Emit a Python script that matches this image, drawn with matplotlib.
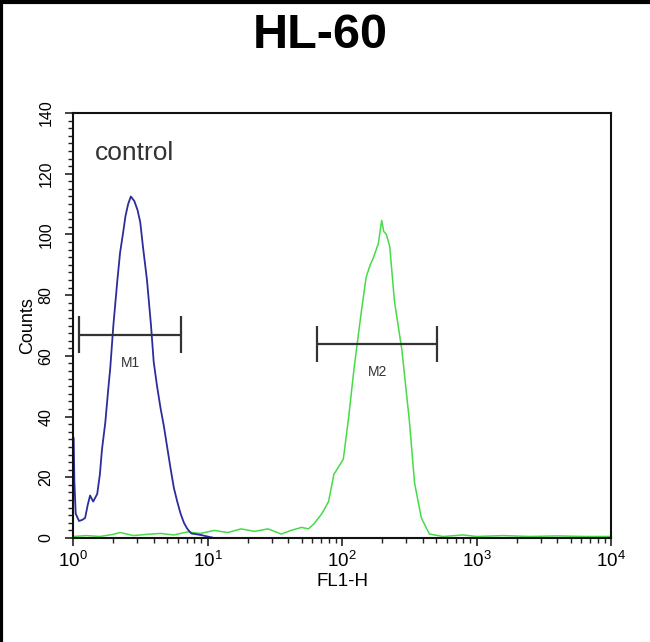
import numpy as np
import matplotlib.pyplot as plt
from matplotlib.ticker import MultipleLocator, LogLocator, NullFormatter
from matplotlib.lines import Line2D

plt.rcParams['font.family'] = ['Liberation Sans', 'DejaVu Sans']
plt.rcParams['mathtext.fontset'] = 'custom'
plt.rcParams['mathtext.rm'] = 'Liberation Sans'

# control histogram (blue): log10(FL1-H) and counts
ctrl_dec = [0.0, 0.0, 0.005, 0.01, 0.02, 0.045, 0.07, 0.09, 0.11, 0.127, 0.15, 0.18,
            0.20, 0.215, 0.24, 0.26, 0.277, 0.30, 0.33, 0.35, 0.374, 0.39, 0.41,
            0.43, 0.456, 0.48, 0.50, 0.52, 0.55, 0.58, 0.60, 0.625, 0.65, 0.675,
            0.70, 0.725, 0.75, 0.775, 0.80, 0.825, 0.85, 0.88, 0.95, 1.0, 1.05, 4.0]
ctrl_cnt = [0, 33, 33, 19, 8, 5.6, 6, 6.6, 11, 14, 12, 14.5,
            21, 29, 38, 48, 56, 70, 85, 94, 101, 106, 110,
            112.5, 111, 108, 104, 96, 85, 70, 58, 50, 43, 37,
            30, 23, 16.5, 12, 8, 5, 3, 1.5, 1, 0.5, 0, 0]

# HL-60 stained histogram (green)
samp_dec = [0.0, 0.1, 0.2, 0.3, 0.35, 0.45, 0.55, 0.65, 0.75, 0.85, 0.95, 1.05,
            1.15, 1.25, 1.35, 1.45, 1.548, 1.62, 1.7, 1.75, 1.79, 1.85, 1.90, 1.94,
            2.01, 2.05, 2.09, 2.145, 2.18, 2.21, 2.235, 2.27, 2.295, 2.31, 2.33,
            2.355, 2.39, 2.445, 2.50, 2.54, 2.59, 2.65, 2.75, 2.9, 3.0, 3.2, 3.4,
            3.6, 3.8, 4.0]
samp_cnt = [0.5, 0.8, 0.5, 1.2, 1.8, 0.8, 1.2, 1.5, 1.0, 2.0, 1.5, 2.5,
            1.8, 3.0, 2.2, 3.0, 1.3, 2.5, 3.5, 3.0, 4.6, 8, 12, 21,
            26, 40, 56, 75, 86, 90, 92.5, 97, 104.6, 101, 100,
            96, 78, 62, 39, 18, 6.6, 1.3, 0.5, 1.0, 0.5, 0.8, 0.5,
            0.7, 0.5, 0.5]

# marker gates
gate_names = ['M1', 'M2']
gate_lo = [1.11, 65.6]
gate_hi = [6.4, 509]
gate_y = [67, 64]

fig = plt.figure(figsize=(6.5, 6.42), dpi=100)
ax = fig.add_axes([73 / 650, 104 / 642, 538 / 650, 425 / 642])

ax.plot(10 ** np.array(samp_dec), samp_cnt, color='#46dc46', lw=1.1)
ax.plot(10 ** np.array(ctrl_dec), ctrl_cnt, color='#2c2c9c', lw=1.3)

for name, lo, hi, yy in zip(gate_names, gate_lo, gate_hi, gate_y):
    ax.hlines(yy, lo, hi, color='#333333', lw=1.6)
    ax.vlines([lo, hi], yy - 6, yy + 6, color='#333333', lw=1.6)
    ax.text(np.sqrt(lo * hi), yy - 7, name, ha='center', va='top',
            fontsize=10, color='#333333')

ax.set_xscale('log')
ax.set_xlim(1, 1e4)
ax.set_ylim(0, 140)
ax.yaxis.set_major_locator(MultipleLocator(20))
ax.yaxis.set_minor_locator(MultipleLocator(2.5))
ax.xaxis.set_major_locator(LogLocator(base=10))
ax.xaxis.set_minor_locator(LogLocator(base=10, subs=np.arange(2, 10)))
ax.xaxis.set_minor_formatter(NullFormatter())

ax.tick_params(axis='both', which='major', length=6, width=1.2, color='#222222')
ax.tick_params(axis='both', which='minor', length=3.5, width=1.0, color='#222222')
ax.tick_params(axis='y', labelsize=11.5, labelrotation=90, pad=8)
ax.tick_params(axis='x', labelsize=13.5, pad=3)
for lab in ax.get_yticklabels():
    lab.set_va('center')

for sp in ax.spines.values():
    sp.set_linewidth(1.5)
    sp.set_color('#111111')

ax.set_xlabel('FL1-H', fontsize=13.5, labelpad=2)
ax.set_ylabel('Counts', fontsize=13, labelpad=2)
ax.text(0.04, 0.905, 'control', transform=ax.transAxes, fontsize=19,
        color='#333333', va='center')

fig.text(320 / 650, 1 - 35 / 642, 'HL-60', ha='center', va='center',
         fontsize=35, fontweight='bold')

# black edge on the left and top of the picture
fig.add_artist(Line2D([0.002, 0.002], [0, 1], color='black', lw=3,
                      transform=fig.transFigure))
fig.add_artist(Line2D([0, 1], [0.997, 0.997], color='black', lw=3,
                      transform=fig.transFigure))

fig.savefig('out.png', dpi=100)
